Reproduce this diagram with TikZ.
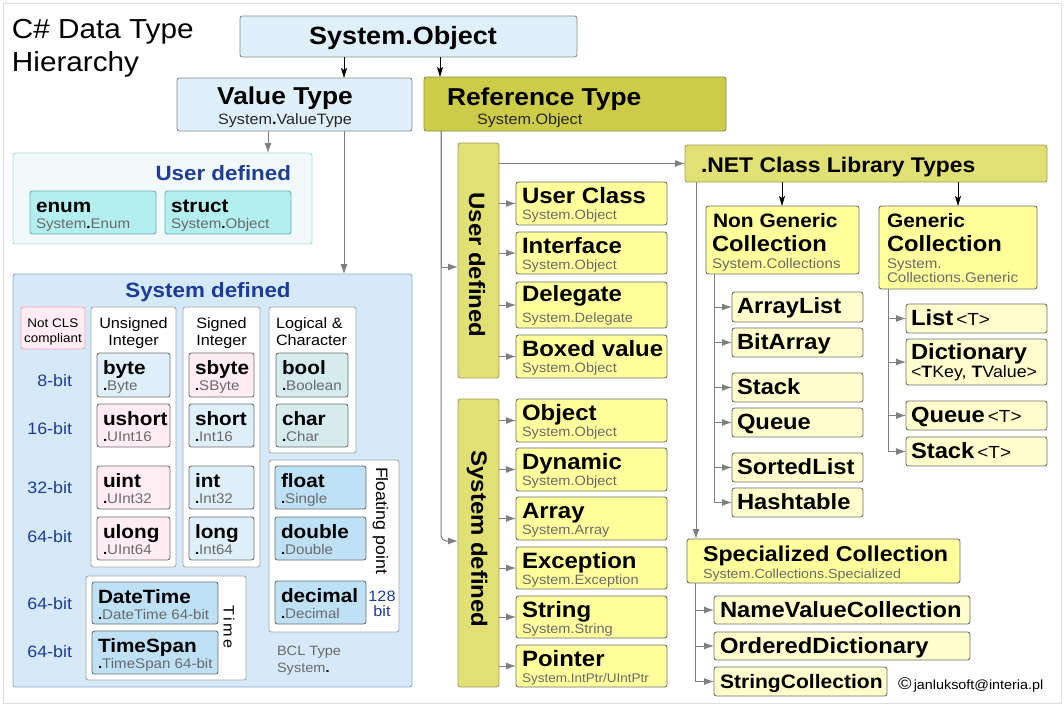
\documentclass[tikz,border=0pt]{standalone}
\usepackage{fontspec}
\setmainfont{Liberation Sans}[FakeStretch=1.08]
\usetikzlibrary{arrows.meta}
\definecolor{cLB}{HTML}{DFF0FB}
\definecolor{cGrey}{HTML}{8C8C8C}
\definecolor{cOl}{HTML}{CCCC48}
\definecolor{cOlD}{HTML}{8C8C4C}
\definecolor{cLOl}{HTML}{E0E074}
\definecolor{cOlD2}{HTML}{A0A060}
\definecolor{cY}{HTML}{FFFF9C}
\definecolor{cLY}{HTML}{FFFFCE}
\definecolor{cItem}{HTML}{6E6E6E}
\definecolor{cUDbg}{HTML}{F1F9FA}
\definecolor{cUDd}{HTML}{A9DCDD}
\definecolor{cCy}{HTML}{B4EFEF}
\definecolor{cCyD}{HTML}{6FB0B0}
\definecolor{cSDbg}{HTML}{D6E9F8}
\definecolor{cSDd}{HTML}{88AACF}
\definecolor{cPk}{HTML}{FFEDF3}
\definecolor{cPkD}{HTML}{F0A8B8}
\definecolor{cTl}{HTML}{D5EBEE}
\definecolor{cMB}{HTML}{BEE1F6}
\definecolor{cWD}{HTML}{A8A8A8}
\definecolor{cDB}{HTML}{1E3C96}
\definecolor{cSub}{HTML}{6A6A6A}
\definecolor{cArr}{HTML}{7F7F7F}
\definecolor{cFrame}{HTML}{DDDDDD}
\newcommand\dotb{{\bfseries\color{black}.}}
\newcommand\fs[1]{\fontsize{#1}{#1}\selectfont}
% box only: name, style, x1, y1, x2, y2
\newcommand\bxn[6]{\node[#2,anchor=north west,minimum width={(#5)-(#3)},minimum height={(#6)-(#4)}] (#1) at (#3,#4) {};}
% box with title + subtitle
\newcommand\tsb[8]{\bxn{#1}{#2}{#3}{#4}{#5}{#6}
 \node[curttl,anchor=base west] (#1t) at ([shift={(\tdx,\tyo)}]#1.north west) {#7};
 \node[cursub,anchor=base west] (#1s) at ([shift={(\tdx,\syo)}]#1.north west) {#8};}
% box with one line
\newcommand\oneb[7]{\bxn{#1}{#2}{#3}{#4}{#5}{#6}
 \node[curttl,anchor=base west] (#1t) at ([shift={(\tdx,\tyo)}]#1.north west) {#7};}
\begin{document}
\begin{tikzpicture}[x=1pt,y=-1pt,
  every node/.style={inner sep=0pt,outer sep=0pt},
  bx/.style={rounded corners=2.5pt,line width=0.9pt},
  soB/.style={bx,fill=cLB,draw=cGrey},
  rtB/.style={bx,fill=cOl,draw=cOlD},
  loB/.style={bx,fill=cLOl,draw=cOlD2},
  yB/.style={bx,fill=cY,draw=cItem},
  lyB/.style={bx,fill=cLY,draw=cItem},
  udB/.style={bx,fill=cUDbg,draw=cUDd},
  cyB/.style={bx,fill=cCy,draw=cCyD},
  sdB/.style={bx,fill=cSDbg,draw=cSDd},
  pkB/.style={bx,fill=cPk,draw=cItem},
  pkL/.style={bx,fill=cPk,draw=cPkD},
  lbB/.style={bx,fill=cLB,draw=cItem},
  tlB/.style={bx,fill=cTl,draw=cItem},
  mbB/.style={bx,fill=cMB,draw=cItem},
  wB/.style={bx,fill=white,draw=cWD},
  garr/.style={draw=cArr,line width=1pt,-{Latex[length=10pt,width=7pt]}},
  barr/.style={draw=black,line width=0.9pt,-{Stealth[length=10pt,width=6pt,inset=2pt]}},
  curttl/.style={font=\bfseries\fs{22.2}},
  cursub/.style={font=\fs{13.5},text=cSub}
]
\useasboundingbox (0,0) rectangle (1064,707);
\fill[white] (0,0) rectangle (1064,707);
\draw[cFrame,line width=1pt] (3,3) rectangle (1061,703);

% title
\node[anchor=base west,font=\fs{27.5}] (title1) at (12,38) {C\# Data Type};
\node[anchor=base west,font=\fs{27.5}] (title2) at (12,71) {Hierarchy};

% top
\bxn{so}{soB}{240}{16}{577}{57}
\node[anchor=base,font=\bfseries\fs{25}] (sot) at (403,44) {System.Object};
\bxn{vt}{soB}{177}{78}{412}{131}
\node[anchor=base,font=\bfseries\fs{24.4}] (vtt) at (285,104) {Value Type};
\node[anchor=base,font=\fs{15},text=black!85] (vts) at (285,124) {System\dotb ValueType};
\bxn{rt}{rtB}{424}{77}{726}{131}
\node[anchor=base west,font=\bfseries\fs{24.4}] (rtt) at (447,105) {Reference Type};
\node[anchor=base west,font=\fs{15},text=black!85] (rts) at (477,124) {System.Object};

\draw[barr] (so.south -| 344,0) -- (vt.north -| 344,0);
\draw[barr] (so.south -| 440,0) -- (rt.north -| 440,0);

% value type: user defined
\bxn{udv}{udB}{13}{153}{312}{244}
\node[anchor=base east,font=\bfseries\fs{20.7},text=cDB] (udvt) at (291,180) {User defined};
\def\tdx{6}\def\tyo{21}\def\syo{37}
\tikzset{curttl/.style={font=\bfseries\fs{19.2}},cursub/.style={font=\fs{14},text=cSub}}
\tsb{enum}{cyB}{30}{191}{156}{234}{enum}{System\dotb Enum}
\tsb{struct}{cyB}{165}{191}{291}{234}{struct}{System\dotb Object}
\draw[garr] (vt.south -| 268,0) -- (udv.north -| 268,0);

% value type: system defined
\bxn{sdv}{sdB}{13}{274}{412}{687}
\node[anchor=base,font=\bfseries\fs{20.7},text=cDB] (sdvt) at (208,297) {System defined};
\draw[garr] (vt.south -| 344,0) -- (sdv.north -| 344,0);

\bxn{ncls}{pkL}{21}{307}{85}{349}
\node[anchor=base,font=\fs{12.5}] (ncls1) at (53,327) {Not CLS};
\node[anchor=base,font=\fs{12.5}] (ncls2) at (53,342) {compliant};

\bxn{ucol}{wB}{91}{307}{176}{567}
\bxn{scol}{wB}{183}{307}{260}{567}
\bxn{lcol}{wB}{269}{307}{356}{453}
\bxn{fcol}{wB}{269}{460}{399}{632}
\bxn{tcol}{wB}{86}{576}{246}{680}
\node[anchor=base,font=\fs{15}] (ucol1) at (133.5,328) {Unsigned};
\node[anchor=base,font=\fs{15}] (ucol2) at (133.5,345) {Integer};
\node[anchor=base,font=\fs{15}] (scol1) at (221.5,328) {Signed};
\node[anchor=base,font=\fs{15}] (scol2) at (221.5,345) {Integer};
\node[anchor=base west,font=\fs{15}] (lcol1) at (276,328) {Logical \&};
\node[anchor=base west,font=\fs{15}] (lcol2) at (276,345) {Character};

\tsb{byte}{lbB}{97}{353}{170}{397}{byte}{\dotb Byte}
\tsb{ushort}{pkB}{97}{404}{170}{447}{ushort}{\dotb UInt16}
\tsb{uint}{pkB}{97}{466}{170}{509}{uint}{\dotb UInt32}
\tsb{ulong}{pkB}{97}{517}{170}{560}{ulong}{\dotb UInt64}
\tsb{sbyte}{pkB}{189}{353}{254}{397}{sbyte}{\dotb SByte}
\tsb{short}{lbB}{189}{404}{254}{447}{short}{\dotb Int16}
\tsb{int}{lbB}{189}{466}{254}{509}{int}{\dotb Int32}
\tsb{long}{lbB}{189}{517}{254}{560}{long}{\dotb Int64}
\tsb{bool}{tlB}{276}{353}{348}{397}{bool}{\dotb Boolean}
\tsb{char}{tlB}{276}{404}{348}{447}{char}{\dotb Char}
\tsb{float}{mbB}{275}{466}{366}{509}{float}{\dotb Single}
\tsb{double}{mbB}{275}{517}{366}{560}{double}{\dotb Double}
\tsb{decimal}{mbB}{275}{581}{366}{624}{decimal}{\dotb Decimal}
\tsb{datetime}{mbB}{92}{582}{218}{624}{DateTime}{\dotb DateTime 64-bit}
\tsb{timespan}{mbB}{92}{631}{218}{674}{TimeSpan}{\dotb TimeSpan 64-bit}

\node[anchor=base west,rotate=-90,font=\fs{16.5}] (fpt) at (376,467) {Floating point};
\node[rotate=-90,font=\fs{15}] (timet) at (229,627) {T\hspace{2.5pt}i\hspace{2.5pt}m\hspace{2.5pt}e};
\node[anchor=base,font=\fs{15},text=cDB] (b128a) at (382,601) {128};
\node[anchor=base,font=\fs{15},text=cDB] (b128b) at (382,616) {bit};
\node[anchor=base west,font=\fs{13.5},text=cSub] (bcl1) at (277,655) {BCL Type};
\node[anchor=base west,font=\fs{13.5},text=cSub] (bcl2) at (277,672) {System\dotb};

\node[anchor=base east,font=\fs{16.5},text=cDB] (bit8) at (72,386) {8-bit};
\node[anchor=base east,font=\fs{16.5},text=cDB] (bit16) at (72,434) {16-bit};
\node[anchor=base east,font=\fs{16.5},text=cDB] (bit32) at (72,493) {32-bit};
\node[anchor=base east,font=\fs{16.5},text=cDB] (bit64a) at (72,542) {64-bit};
\node[anchor=base east,font=\fs{16.5},text=cDB] (bit64b) at (72,609) {64-bit};
\node[anchor=base east,font=\fs{16.5},text=cDB] (bit64c) at (72,657) {64-bit};

% reference type
\bxn{udr}{loB}{458}{143}{499}{378}
\node[rotate=-90,font=\bfseries\fs{22.2}] (udrt) at (477,265) {User defined};
\bxn{sdr}{loB}{458}{399}{499}{687}
\node[rotate=-90,font=\bfseries\fs{22.2}] (sdrt) at (477,539) {System defined};
\draw[garr] (rt.south -| 441,0) |- (udr.west |- 0,267);
\draw[garr,rounded corners=6pt] (rt.south -| 441,0) |- (sdr.west |- 0,541);

\tikzset{curttl/.style={font=\bfseries\fs{22.2}},cursub/.style={font=\fs{13.5},text=cSub}}
\def\tdx{6}\def\tyo{21}\def\syo{37}
\tsb{uc}{yB}{516}{182}{667}{225}{User Class}{System.Object}
\tsb{intf}{yB}{516}{232}{667}{274}{Interface}{System.Object}
{\def\tyo{19}\def\syo{40}
\tsb{del}{yB}{516}{282}{667}{328}{Delegate}{System.Delegate}}
\tsb{boxed}{yB}{516}{335}{667}{378}{Boxed value}{System.Object}
\tsb{obj}{yB}{516}{399}{667}{442}{Object}{System.Object}
\tsb{dyn}{yB}{516}{448}{667}{491}{Dynamic}{System.Object}
\tsb{arr}{yB}{516}{497}{667}{540}{Array}{System.Array}
\tsb{exc}{yB}{516}{547}{667}{589}{Exception}{System.Exception}
\tsb{str}{yB}{516}{596}{667}{638}{String}{System.String}
\tsb{ptr}{yB}{516}{645}{667}{687}{Pointer}{\fs{12.5}System.IntPtr/UIntPtr}
\foreach \n in {uc,intf,del,boxed}{\draw[garr] (udr.east |- \n.west) -- (\n.west);}
\foreach \n in {obj,dyn,arr,exc,str,ptr}{\draw[garr] (sdr.east |- \n.west) -- (\n.west);}

% .NET class library
\bxn{net}{loB}{685}{145}{1047}{182}
\node[anchor=base west,font=\bfseries\fs{21.2}] (nett) at (701,172) {.NET Class Library Types};
\draw[garr] (udr.east |- net.west) -- (net.west);

\bxn{ng}{yB}{706}{206}{859}{274}
\node[anchor=base west,font=\bfseries\fs{19.4}] (ng1) at (713,227) {Non Generic};
\node[anchor=base west,font=\bfseries\fs{22}] (ng2) at (712,251) {Collection};
\node[anchor=base west,font=\fs{14},text=cSub] (ng3) at (712,268) {System.Collections};
\bxn{gc}{yB}{879}{206}{1037}{289}
\node[anchor=base west,font=\bfseries\fs{19.4}] (gc1) at (887,227) {Generic};
\node[anchor=base west,font=\bfseries\fs{22}] (gc2) at (887,251) {Collection};
\node[anchor=base west,font=\fs{14},text=cSub] (gc3) at (887,268) {System.};
\node[anchor=base west,font=\fs{14},text=cSub] (gc4) at (887,282) {Collections.Generic};
\draw[barr] (net.south -| 782,0) -- (ng.north -| 782,0);
\draw[barr] (net.south -| 958,0) -- (gc.north -| 958,0);

\tikzset{curttl/.style={font=\bfseries\fs{22}}}
\def\tdx{5}\def\tyo{21}
\oneb{al}{lyB}{732}{292}{863}{322}{ArrayList}
\oneb{ba}{lyB}{732}{328}{863}{357}{BitArray}
\oneb{stk}{lyB}{732}{373}{863}{402}{Stack}
\oneb{que}{lyB}{732}{408}{863}{437}{Queue}
\oneb{sl}{lyB}{732}{453}{863}{482}{SortedList}
\oneb{ht}{lyB}{732}{488}{863}{517}{Hashtable}
\foreach \n in {al,ba,stk,que,sl,ht}{\draw[garr] (ng.south -| 714,0) |- (\n.west);}

\oneb{lst}{lyB}{906}{304}{1047}{333}{List\hspace{3pt}{\mdseries\fs{17.5}<T>}}
{\def\tyo{20}
\oneb{dict}{lyB}{906}{339}{1047}{385}{Dictionary}}
\node[anchor=base west,font=\fs{16.5}] (dict2) at (911,377) {<\textbf{T}Key, \textbf{T}Value>};
\oneb{gq}{lyB}{906}{401}{1047}{430}{Queue\hspace{3pt}{\mdseries\fs{17.5}<T>}}
\oneb{gs}{lyB}{906}{437}{1047}{466}{Stack\hspace{3pt}{\mdseries\fs{17.5}<T>}}
\foreach \n in {lst,dict,gq,gs}{\draw[garr] (gc.south -| 888,0) |- (\n.west);}

% specialized
\bxn{spec}{yB}{687}{539}{960}{583}
\node[anchor=base west,font=\bfseries\fs{21.5}] (spect) at (703,561) {Specialized Collection};
\node[anchor=base west,font=\fs{13.2},text=cSub] (specs) at (703,578) {System.Collections.Specialized};
\draw[garr] (net.south -| 696,0) -- (spec.north -| 696,0);
\def\tdx{6}
\oneb{nvc}{lyB}{714}{596}{970}{624}{NameValueCollection}
\oneb{od}{lyB}{714}{632}{970}{660}{OrderedDictionary}
\oneb{sc}{lyB}{714}{667}{887}{696}{\fs{19.5}StringCollection}
\foreach \n in {nvc,od,sc}{\draw[garr] (spec.south -| 695,0) |- (\n.west);}

\node[anchor=base west,font=\fs{13.3}] (copy) at (898,689) {{\fs{17}\textcopyright}\,janluksoft@interia.pl};
\end{tikzpicture}
\end{document}
